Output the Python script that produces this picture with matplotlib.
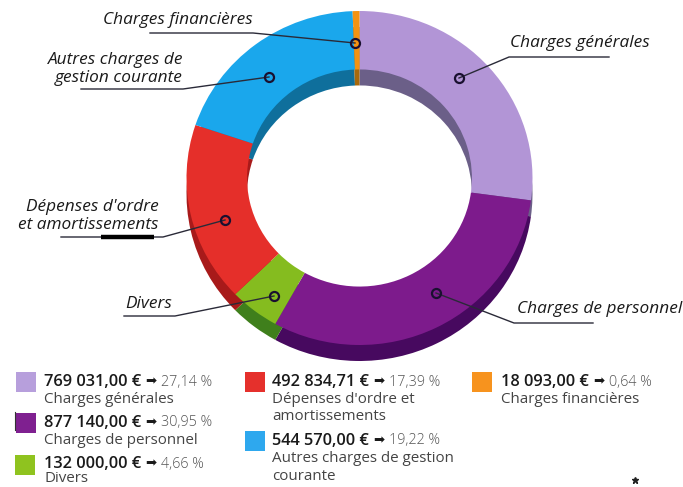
import matplotlib
matplotlib.use("Agg")
import matplotlib.pyplot as plt
from matplotlib.patches import Rectangle

# Data
names = ["Charges générales", "Charges de personnel", "Divers",
         "Dépenses d'ordre et\namortissements", "Autres charges de gestion\ncourante", "Charges financières"]
amounts = [769031.00, 877140.00, 132000.00, 492834.71, 544570.00, 18093.00]
percents = [27.14, 30.95, 4.66, 17.39, 19.22, 0.64]
colors = ["#b295d6", "#7d1b8c", "#85bc1f", "#e52f2a", "#1aa7ec", "#f39312"]
dark_colors = ["#6b5f88", "#47095f", "#3f7f1c", "#a81a1a", "#0f6f9c", "#a8690c"]
swatch_colors = ["#b79fdc", "#7f2090", "#8fc31f", "#e5302c", "#2ea8ee", "#f7931e"]

# legend layout, pixels: swatch x, swatch y, text x, first line y
legend_pos = [(16, 372, 44, 382), (16, 413, 44, 423), (15, 455, 44, 464),
              (245, 372, 272, 382), (245, 431, 272, 441), (472, 372, 501, 382)]

# callouts: text, text x, text y, alignment, marker and line path in pixels
callouts = [
    ("Charges financières", 103, 20, 'left', [(355, 43), (253, 33), (150, 33)]),
    ("Autres charges de\ngestion courante", 183, 69, 'right', [(269, 77), (183, 89), (81, 89)]),
    ("Charges générales", 510, 43, 'left', [(459, 78), (509, 57), (609, 57)]),
    ("Dépenses d'ordre\net amortissements", 159, 216, 'right', [(225, 220), (163, 237), (61, 237)]),
    ("Divers", 125, 304, 'left', [(274, 296), (175, 316), (124, 316)]),
    ("Charges de personnel", 517, 309, 'left', [(436, 293), (514, 323), (593, 323)]),
]

W, H = 683, 487
cx, cy, rx, ry = 359.5, 178, 173, 167
depth = 16

plt.rcParams['font.family'] = ['Open Sans', 'DejaVu Sans']
fig = plt.figure(figsize=(W / 100, H / 100), dpi=100)

# donut, shifted copy first for the 3D edge
ax = fig.add_axes([0, 0, 1, 1])
ax.pie(amounts, colors=dark_colors, startangle=90, counterclock=False, center=(0, -depth / ry),
       wedgeprops={'width': 0.35, 'linewidth': 0})
ax.pie(amounts, colors=colors, startangle=90, counterclock=False,
       wedgeprops={'width': 0.35, 'linewidth': 0})
ax.set_aspect('auto')
ax.set_xlim(-cx / rx, (W - cx) / rx)
ax.set_ylim((cy - H) / ry, cy / ry)

# overlay in pixel coordinates for text and legend
ov = fig.add_axes([0, 0, 1, 1])
ov.set_xlim(0, W)
ov.set_ylim(H, 0)
ov.axis('off')
ov.patch.set_alpha(0)

for label, tx, ty, align, path in callouts:
    xs = [p[0] for p in path]
    ys = [p[1] for p in path]
    ov.plot(xs, ys, color="#2a2a38", lw=1.0, solid_joinstyle='round')
    ov.plot(xs[0], ys[0], 'o', ms=6.5, mfc='none', mec="#1a1030", mew=1.6)
    ov.text(tx, ty, label, ha=align, va='center', ma=align, style='italic', fontsize=12.4,
            color="#1a1a1a", linespacing=1.22)

# thick stroke under "amortissements"
ov.plot([101, 154], [237, 237], color='black', lw=3.2, solid_capstyle='butt')

renderer = fig.canvas.get_renderer()
for i, name in enumerate(names):
    sx, sy, tx, ty = legend_pos[i]
    ov.add_patch(Rectangle((sx, sy), 20, 20, fc=swatch_colors[i], ec='none'))
    amount = f"{amounts[i]:,.2f}".replace(",", " ").replace(".", ",") + " €"
    t1 = ov.text(tx, ty, amount, fontsize=11.8, fontweight='semibold', va='center', color="#1a1a1a")
    x1 = ov.transData.inverted().transform(t1.get_window_extent(renderer))[1][0]
    t2 = ov.text(x1 + 4, ty, "➡", fontsize=9.5, va='center', color="#1a1a1a", family='DejaVu Sans')
    x2 = ov.transData.inverted().transform(t2.get_window_extent(renderer))[1][0]
    ov.text(x2 + 5, ty, f"{percents[i]:.2f} %".replace(".", ","), fontsize=10.4, va='center',
            color="#555555", fontweight='light')
    for j, line in enumerate(name.split("\n")):
        # keep the last line inside the picture
        ov.text(tx, min(ty + 17.5 * (j + 1), H - 9), line, fontsize=10.9, va='center', color="#444444")

# scan specks of the printed page
ov.plot([15, 15], [412, 430], color="#333333", lw=0.8)
ov.plot(635, 480, marker='*', ms=5, color="#222222")

fig.savefig("out.png", dpi=100)
